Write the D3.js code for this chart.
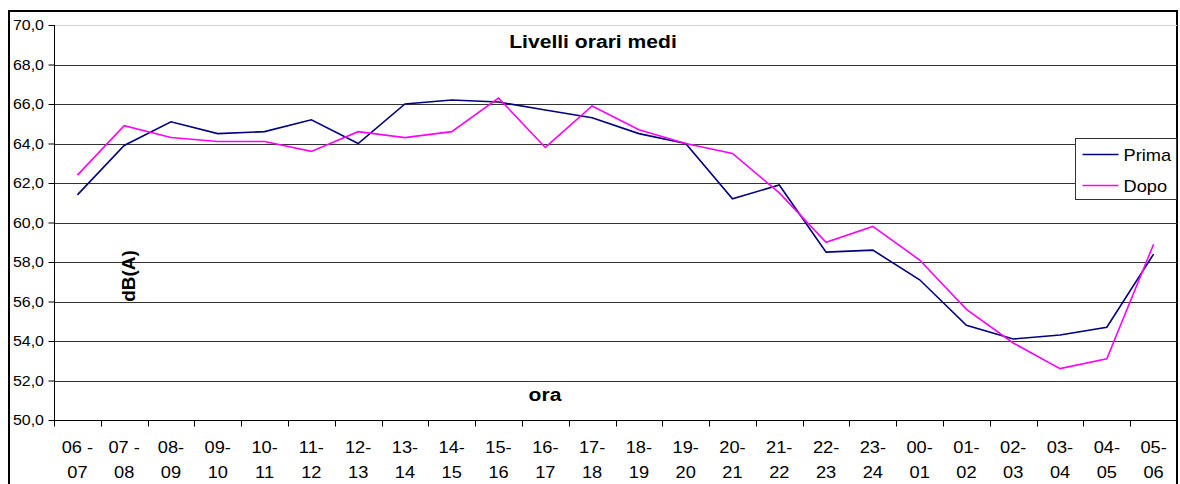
<!DOCTYPE html>
<html>
<head>
<meta charset="utf-8">
<script src="https://cdn.jsdelivr.net/npm/d3@7"></script>
<style>
  body { margin: 0; background: #fff; }
  svg { display: block; font-family: "Liberation Sans", Arial, sans-serif; }
</style>
</head>
<body>
<div id="chart"></div>
<script>
// fasce orarie (la seconda riga dell'etichetta va a capo sull'ultimo spazio)
var fasce = ["06 - 07", "07 - 08", "08- 09", "09- 10", "10- 11", "11- 12", "12- 13", "13- 14",
    "14- 15", "15- 16", "16- 17", "17- 18", "18- 19", "19- 20", "20- 21", "21- 22",
    "22- 23", "23- 24", "00- 01", "01- 02", "02- 03", "03- 04", "04- 05", "05- 06"];

var prima = [61.4, 63.9, 65.1, 64.5, 64.6, 65.2, 64.0, 66.0, 66.2, 66.1, 65.7, 65.3,
    64.5, 64.0, 61.2, 61.9, 58.5, 58.6, 57.1, 54.8, 54.1, 54.3, 54.7, 58.4];

var dopo = [62.4, 64.9, 64.3, 64.1, 64.1, 63.6, 64.6, 64.3, 64.6, 66.3, 63.8, 65.9,
    64.7, 64.0, 63.5, 61.5, 59.0, 59.8, 58.1, 55.6, 53.9, 52.6, 53.1, 58.9];

var yTicks = [50, 52, 54, 56, 58, 60, 62, 64, 66, 68, 70];

(function () {
    var serie = [
        { nome: "Prima", valori: prima, colore: "#000080" },
        { nome: "Dopo", valori: dopo, colore: "#ff00ff" }
    ];

    var width = 1180, height = 484;
    var pLeft = 54, pRight = 1177, pTop = 25, pBottom = 420;
    var stretch = 1.14; // il grafico originale e' allargato in orizzontale

    var svg = d3.select("#chart").append("svg")
        .attr("width", width)
        .attr("height", height);

    var x = d3.scaleBand().domain(fasce).range([pLeft, pRight]);
    var y = d3.scaleLinear().domain([50, 70]).range([pBottom, pTop]);

    // testo allargato come nell'immagine
    function testo(g, px, py, s, size, anchor, bold) {
        return g.append("g")
            .attr("transform", "translate(" + px + "," + py + ") scale(" + stretch + ",1)")
            .append("text")
            .attr("text-anchor", anchor)
            .attr("font-size", size)
            .attr("font-weight", bold ? "bold" : "normal")
            .attr("fill", "#000")
            .text(s);
    }

    // bordo esterno
    svg.append("rect")
        .attr("x", 9).attr("y", 11)
        .attr("width", pRight - 9).attr("height", 490)
        .attr("fill", "none")
        .attr("stroke", "#000")
        .attr("stroke-width", 2);

    // griglia
    svg.append("g").selectAll("line")
        .data(yTicks.slice(1))
        .enter().append("line")
        .attr("x1", pLeft).attr("x2", pRight)
        .attr("y1", function (d) { return Math.round(y(d)) + 0.5; })
        .attr("y2", function (d) { return Math.round(y(d)) + 0.5; })
        .attr("stroke", function (d) { return d === 70 ? "#d4d4d4" : "#333"; })
        .attr("stroke-width", 1);

    // asse y
    var yAxis = svg.append("g")
        .attr("transform", "translate(" + (pLeft + 0.5) + ",0)")
        .call(d3.axisLeft(y).tickValues(yTicks).tickSize(6).tickFormat(""));
    yAxis.select(".domain").attr("stroke", "#000").attr("d", "M0," + pTop + "V" + pBottom);
    yAxis.selectAll(".tick line").attr("stroke", "#000");

    var yLab = svg.append("g");
    yTicks.forEach(function (d) {
        testo(yLab, 44, y(d) + 5, d3.format(".1f")(d).replace(".", ","), 14, "end", false);
    });

    // asse x: tacche ai bordi delle categorie
    var xAxis = svg.append("g")
        .attr("transform", "translate(0," + (Math.round(pBottom) + 0.5) + ")");
    xAxis.append("line")
        .attr("x1", pLeft).attr("x2", pRight)
        .attr("stroke", "#000");
    xAxis.selectAll(".tacca")
        .data(fasce)
        .enter().append("line")
        .attr("class", "tacca")
        .attr("x1", function (d) { return Math.round(x(d)) + 0.5; })
        .attr("x2", function (d) { return Math.round(x(d)) + 0.5; })
        .attr("y1", 0).attr("y2", 6)
        .attr("stroke", "#000");

    var xLab = svg.append("g");
    fasce.forEach(function (d) {
        var i = d.lastIndexOf(" ");
        var cx = x(d) + x.bandwidth() / 2;
        testo(xLab, cx, 453, d.slice(0, i), 16, "middle", false);
        testo(xLab, cx, 478, d.slice(i + 1), 16, "middle", false);
    });

    // linee
    var line = d3.line()
        .x(function (d, i) { return x(fasce[i]) + x.bandwidth() / 2; })
        .y(function (d) { return y(d); });

    svg.append("g").selectAll("path")
        .data(serie)
        .enter().append("path")
        .attr("d", function (d) { return line(d.valori); })
        .attr("fill", "none")
        .attr("stroke", function (d) { return d.colore; })
        .attr("stroke-width", 1.6)
        .attr("stroke-linejoin", "miter");

    // titoli
    testo(svg, 593, 48, "Livelli orari medi", 18.5, "middle", true);
    testo(svg, 545, 401, "ora", 18.5, "middle", true);

    svg.append("text")
        .attr("transform", "translate(135,276) rotate(-90)")
        .attr("text-anchor", "middle")
        .attr("font-size", 19)
        .attr("font-weight", "bold")
        .text("dB(A)");

    // legenda
    var leg = svg.append("g").attr("transform", "translate(1075.5,138.5)");
    leg.append("rect")
        .attr("width", 101).attr("height", 61)
        .attr("fill", "#fff")
        .attr("stroke", "#333");
    serie.forEach(function (s, i) {
        var ly = 16 + i * 31;
        leg.append("line")
            .attr("x1", 7).attr("x2", 43)
            .attr("y1", ly).attr("y2", ly)
            .attr("stroke", s.colore)
            .attr("stroke-width", 1.6);
        testo(leg, 48, ly + 6, s.nome, 16, "start", false);
    });
})();
</script>
</body>
</html>
